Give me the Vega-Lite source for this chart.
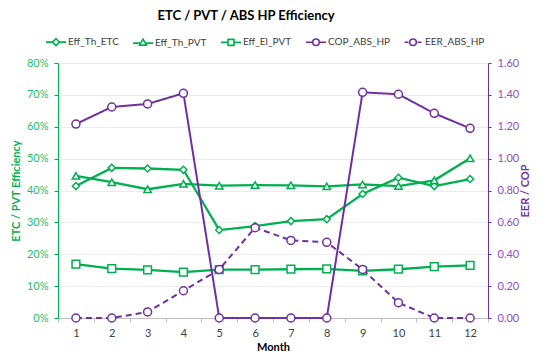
{
  "$schema": "https://vega.github.io/schema/vega-lite/v6.json",
  "width": 430,
  "height": 255,
  "autosize": {"type": "none"},
  "padding": {"left": 58, "top": 63, "right": 62, "bottom": 42},
  "background": "white",
  "config": {"font": "Lato", "view": {"stroke": null}},
  "title": {"text": "ETC / PVT / ABS HP  Efficiency", "fontSize": 13, "fontWeight": "bold", "color": "#000000", "anchor": "middle", "frame": "group", "dx": -27, "offset": 8},
  "data": {"values": [
    {"m": 1, "s": "Eff_Th_ETC", "v": 0.414}, {"m": 2, "s": "Eff_Th_ETC", "v": 0.471}, {"m": 3, "s": "Eff_Th_ETC", "v": 0.469}, {"m": 4, "s": "Eff_Th_ETC", "v": 0.465},
    {"m": 5, "s": "Eff_Th_ETC", "v": 0.276}, {"m": 6, "s": "Eff_Th_ETC", "v": 0.288}, {"m": 7, "s": "Eff_Th_ETC", "v": 0.304}, {"m": 8, "s": "Eff_Th_ETC", "v": 0.31},
    {"m": 9, "s": "Eff_Th_ETC", "v": 0.389}, {"m": 10, "s": "Eff_Th_ETC", "v": 0.44}, {"m": 11, "s": "Eff_Th_ETC", "v": 0.414}, {"m": 12, "s": "Eff_Th_ETC", "v": 0.436},
    {"m": 1, "s": "Eff_Th_PVT", "v": 0.446}, {"m": 2, "s": "Eff_Th_PVT", "v": 0.426}, {"m": 3, "s": "Eff_Th_PVT", "v": 0.404}, {"m": 4, "s": "Eff_Th_PVT", "v": 0.421},
    {"m": 5, "s": "Eff_Th_PVT", "v": 0.415}, {"m": 6, "s": "Eff_Th_PVT", "v": 0.417}, {"m": 7, "s": "Eff_Th_PVT", "v": 0.416}, {"m": 8, "s": "Eff_Th_PVT", "v": 0.413},
    {"m": 9, "s": "Eff_Th_PVT", "v": 0.419}, {"m": 10, "s": "Eff_Th_PVT", "v": 0.414}, {"m": 11, "s": "Eff_Th_PVT", "v": 0.432}, {"m": 12, "s": "Eff_Th_PVT", "v": 0.501},
    {"m": 1, "s": "Eff_El_PVT", "v": 0.169}, {"m": 2, "s": "Eff_El_PVT", "v": 0.155}, {"m": 3, "s": "Eff_El_PVT", "v": 0.151}, {"m": 4, "s": "Eff_El_PVT", "v": 0.144},
    {"m": 5, "s": "Eff_El_PVT", "v": 0.152}, {"m": 6, "s": "Eff_El_PVT", "v": 0.152}, {"m": 7, "s": "Eff_El_PVT", "v": 0.153}, {"m": 8, "s": "Eff_El_PVT", "v": 0.154},
    {"m": 9, "s": "Eff_El_PVT", "v": 0.148}, {"m": 10, "s": "Eff_El_PVT", "v": 0.153}, {"m": 11, "s": "Eff_El_PVT", "v": 0.161}, {"m": 12, "s": "Eff_El_PVT", "v": 0.165},
    {"m": 1, "s": "COP_ABS_HP", "v": 1.217}, {"m": 2, "s": "COP_ABS_HP", "v": 1.324}, {"m": 3, "s": "COP_ABS_HP", "v": 1.343}, {"m": 4, "s": "COP_ABS_HP", "v": 1.41},
    {"m": 5, "s": "COP_ABS_HP", "v": 0}, {"m": 6, "s": "COP_ABS_HP", "v": 0}, {"m": 7, "s": "COP_ABS_HP", "v": 0}, {"m": 8, "s": "COP_ABS_HP", "v": 0},
    {"m": 9, "s": "COP_ABS_HP", "v": 1.416}, {"m": 10, "s": "COP_ABS_HP", "v": 1.404}, {"m": 11, "s": "COP_ABS_HP", "v": 1.284}, {"m": 12, "s": "COP_ABS_HP", "v": 1.19},
    {"m": 1, "s": "EER_ABS_HP", "v": 0}, {"m": 2, "s": "EER_ABS_HP", "v": 0}, {"m": 3, "s": "EER_ABS_HP", "v": 0.038}, {"m": 4, "s": "EER_ABS_HP", "v": 0.171},
    {"m": 5, "s": "EER_ABS_HP", "v": 0.305}, {"m": 6, "s": "EER_ABS_HP", "v": 0.567}, {"m": 7, "s": "EER_ABS_HP", "v": 0.487}, {"m": 8, "s": "EER_ABS_HP", "v": 0.475},
    {"m": 9, "s": "EER_ABS_HP", "v": 0.305}, {"m": 10, "s": "EER_ABS_HP", "v": 0.096}, {"m": 11, "s": "EER_ABS_HP", "v": 0}, {"m": 12, "s": "EER_ABS_HP", "v": 0}
  ]},
  "resolve": {"scale": {"y": "independent", "color": "independent", "shape": "independent", "size": "independent", "strokeDash": "independent"}},
  "layer": [
    {
      "transform": [{"filter": {"field": "s", "oneOf": ["Eff_Th_ETC", "Eff_Th_PVT", "Eff_El_PVT"]}}],
      "encoding": {
        "x": {"field": "m", "type": "ordinal", "scale": {"type": "band", "paddingInner": 0, "paddingOuter": 0},
          "axis": {"title": "Month", "titleFontWeight": "bold", "titleFontSize": 11, "titleColor": "#000000", "titlePadding": 3, "labelAngle": 0, "labelFontSize": 11, "labelColor": "#404040", "labelPadding": 5, "tickBand": "extent", "tickSize": 4, "tickColor": "#BFBFBF", "domainColor": "#BFBFBF", "grid": false}},
        "y": {"field": "v", "type": "quantitative", "scale": {"domain": [0, 0.8], "nice": false},
          "axis": {"orient": "left", "values": [0, 0.1, 0.2, 0.3, 0.4, 0.5, 0.6, 0.7, 0.8], "format": ".0%", "title": "ETC / PVT  Efficiency", "titleColor": "#00B050", "titleFontWeight": "bold", "titleFontSize": 11, "titlePadding": 5, "labelColor": "#1DBF66", "labelFontSize": 11, "labelPadding": 6, "tickSize": 4, "tickColor": "#00B050", "domainColor": "#00B050", "grid": true, "gridColor": "#EBEBEB"}},
        "color": {"field": "s", "type": "nominal", "scale": {"domain": ["Eff_Th_ETC", "Eff_Th_PVT", "Eff_El_PVT"], "range": ["#00B050", "#00B050", "#00B050"]}, "legend": null}
      },
      "layer": [
        {"mark": {"type": "line", "strokeWidth": 2.3}},
        {"mark": {"type": "point", "filled": false, "fill": "white", "strokeWidth": 1.5, "opacity": 1},
          "encoding": {
            "shape": {"field": "s", "type": "nominal", "scale": {"domain": ["Eff_Th_ETC", "Eff_Th_PVT", "Eff_El_PVT"], "range": ["diamond", "triangle-up", "square"]}, "legend": null},
            "size": {"field": "s", "type": "nominal", "scale": {"domain": ["Eff_Th_ETC", "Eff_Th_PVT", "Eff_El_PVT"], "range": [50, 60, 45]}, "legend": null}
          }}
      ]
    },
    {
      "transform": [{"filter": {"field": "s", "oneOf": ["COP_ABS_HP", "EER_ABS_HP"]}}],
      "encoding": {
        "x": {"field": "m", "type": "ordinal", "scale": {"type": "band", "paddingInner": 0, "paddingOuter": 0},
          "axis": {"title": "Month", "titleFontWeight": "bold", "titleFontSize": 11, "titleColor": "#000000", "titlePadding": 3, "labelAngle": 0, "labelFontSize": 11, "labelColor": "#404040", "labelPadding": 5, "tickBand": "extent", "tickSize": 4, "tickColor": "#BFBFBF", "domainColor": "#BFBFBF", "grid": false}},
        "y": {"field": "v", "type": "quantitative", "scale": {"domain": [0, 1.6], "nice": false},
          "axis": {"orient": "right", "values": [0, 0.2, 0.4, 0.6, 0.8, 1.0, 1.2, 1.4, 1.6], "format": ".2f", "title": "EER / COP", "titleAngle": 270, "titleBaseline": "top", "titleColor": "#7030A0", "titleFontWeight": "bold", "titleFontSize": 11, "titlePadding": 1, "labelColor": "#8E4EC6", "labelFontSize": 11, "labelPadding": 6, "tickSize": 3, "tickColor": "#7030A0", "domainColor": "#7030A0", "grid": false}},
        "color": {"field": "s", "type": "nominal", "scale": {"domain": ["COP_ABS_HP", "EER_ABS_HP"], "range": ["#7030A0", "#7030A0"]}, "legend": null}
      },
      "layer": [
        {"mark": {"type": "line", "strokeWidth": 2},
          "encoding": {"strokeDash": {"field": "s", "type": "nominal", "scale": {"domain": ["COP_ABS_HP", "EER_ABS_HP"], "range": [[1, 0], [6, 4]]}, "legend": null}}},
        {"mark": {"type": "point", "filled": false, "fill": "white", "strokeWidth": 1.5, "opacity": 1, "shape": "circle", "size": 64}}
      ]
    },
    {
      "transform": [{"filter": "false"}],
      "mark": {"type": "point", "filled": false, "size": 400, "strokeWidth": 1.6, "opacity": 1},
      "encoding": {
        "color": {"field": "s", "type": "nominal",
          "scale": {"domain": ["Eff_Th_ETC", "Eff_Th_PVT", "Eff_El_PVT", "COP_ABS_HP", "EER_ABS_HP"], "range": ["#00B050", "#00B050", "#00B050", "#7030A0", "#7030A0"]},
          "legend": {"title": null, "orient": "none", "legendX": -13, "legendY": -32, "direction": "horizontal", "columns": 5, "columnPadding": 10, "symbolSize": 400, "symbolStrokeWidth": 1.6, "labelFontSize": 10, "labelColor": "#404040", "labelOffset": 1, "labelLimit": 200}},
        "shape": {"field": "s", "type": "nominal",
          "scale": {"domain": ["Eff_Th_ETC", "Eff_Th_PVT", "Eff_El_PVT", "COP_ABS_HP", "EER_ABS_HP"],
            "range": [
              "M-1,0H-0.35M0.35,0H1M-0.35,0L0,-0.35L0.35,0L0,0.35Z",
              "M-1,0.05H-0.2M0.2,0.05H1M-0.35,0.25L0,-0.35L0.35,0.25Z",
              "M-1,0H-0.3M0.3,0H1M-0.3,-0.3H0.3V0.3H-0.3Z",
              "M-1,0H-0.33M0.33,0H1M-0.33,0A0.33,0.33 0 1,0 0.33,0A0.33,0.33 0 1,0 -0.33,0Z",
              "M-0.85,0H-0.45M0.45,0H0.85M-0.33,0A0.33,0.33 0 1,0 0.33,0A0.33,0.33 0 1,0 -0.33,0Z"
            ]},
          "legend": {"title": null, "orient": "none", "legendX": -13, "legendY": -32, "direction": "horizontal", "columns": 5, "columnPadding": 10, "symbolSize": 400, "symbolStrokeWidth": 1.6, "labelFontSize": 10, "labelColor": "#404040", "labelOffset": 1, "labelLimit": 200}}
      }
    }
  ]
}
